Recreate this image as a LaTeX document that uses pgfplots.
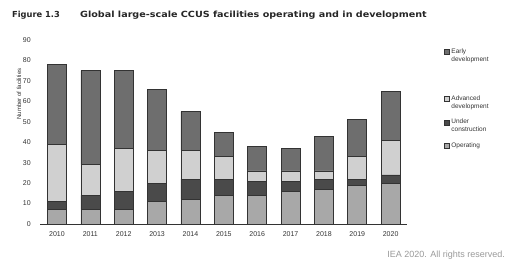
\documentclass[border=0pt]{standalone}
\usepackage{pgfplots}
\pgfplotsset{compat=1.18}
\usepackage{pgfplotstable}
\usepackage{fontspec}
\setmainfont{Liberation Sans}
\newfontfamily\titlefont{DejaVu Sans}
\definecolor{early}{HTML}{6E6E6E}
\definecolor{adv}{HTML}{D0D0D0}
\definecolor{under}{HTML}{4A4A4A}
\definecolor{oper}{HTML}{A8A8A8}
\definecolor{edge}{HTML}{333333}
\pgfplotsset{
  oneline/.style={legend image code/.code={\draw[##1] (0pt,-2.5pt) rectangle (5pt,2.5pt);}},
  twoline/.style={legend image code/.code={\draw[##1] (0pt,1.5pt) rectangle (5pt,6.5pt);}},
}
\pgfplotstableread{
x year op under adv early
0 2010 7 4 28 39
1 2011 7 7 15 46
2 2012 7 9 21 38
3 2013 11 9 16 30
4 2014 12 10 14 19
5 2015 14 8 11 12
6 2016 14 7 5 12
7 2017 16 5 5 11
8 2018 17 5 4 17
9 2019 19 3 11 18
10 2020 20 4 17 24
}\data
\begin{document}
\begin{tikzpicture}
\path[use as bounding box] (0,0) rectangle (508pt,266pt);
\node[anchor=west,inner sep=0pt,font=\titlefont\fontsize{8.3}{10}\selectfont\bfseries,text=black!85] at (12pt,251pt) {Figure 1.3};
\node[anchor=west,inner sep=0pt,font=\titlefont\fontsize{8.5}{10}\selectfont\bfseries,text=black!85] at (80pt,251pt) {\scalebox{1.13}[1]{Global large-scale CCUS facilities operating and in development}};
\node[anchor=east,inner sep=0pt,font=\fontsize{9}{10}\selectfont,text=black!40] at (505pt,11pt) {IEA 2020. All rights reserved.};
\node[rotate=90,inner sep=0pt,font=\fontsize{6}{7}\selectfont,text=black!80] at (19pt,172pt) {Number of facilities};
\begin{axis}[
  at={(57pt,42pt)}, anchor=origin,
  scale only axis, width=367pt, height=184pt,
  ybar stacked, bar width=19pt,
  xmin=-0.5, xmax=10.5, ymin=0, ymax=90,
  xtick=data, xticklabels={2010,2011,2012,2013,2014,2015,2016,2017,2018,2019,2020},
  ytick={0,10,...,90},
  major tick length=0pt,
  axis x line*=bottom, axis y line*=left,
  x axis line style={-, draw=edge, line width=0.8pt},
  y axis line style={draw=none},
  /pgf/number format/assume math mode=true,
  tick label style={font=\fontsize{7}{8}\selectfont, text=black!80},
  xticklabel style={yshift=-4pt},
  yticklabel style={xshift=-6pt},
  legend style={at={(axis description cs:1.091,0.975)}, anchor=north west, draw=none, fill=none,
    font=\fontsize{6.5}{8}\selectfont, text=black!80, row sep=5.5pt, cells={align=left, anchor=west}},
  every axis plot/.append style={draw=edge, line width=0.6pt},
]
\addplot[fill=oper, forget plot] table[x=x,y=op]{\data};
\addplot[fill=under, forget plot] table[x=x,y=under]{\data};
\addplot[fill=adv, forget plot] table[x=x,y=adv]{\data};
\addplot[fill=early, forget plot] table[x=x,y=early]{\data};
\addlegendimage{twoline, fill=early, draw=edge, line width=0.5pt}
\addlegendentry{Early\\development}
\addlegendimage{empty legend}
\addlegendentry{\rule{0pt}{12pt}}
\addlegendimage{twoline, fill=adv, draw=edge, line width=0.5pt}
\addlegendentry{Advanced\\development}
\addlegendimage{twoline, fill=under, draw=edge, line width=0.5pt}
\addlegendentry{Under\\construction}
\addlegendimage{oneline, fill=oper, draw=edge, line width=0.5pt}
\addlegendentry{Operating}
\end{axis}
\end{tikzpicture}
\end{document}
